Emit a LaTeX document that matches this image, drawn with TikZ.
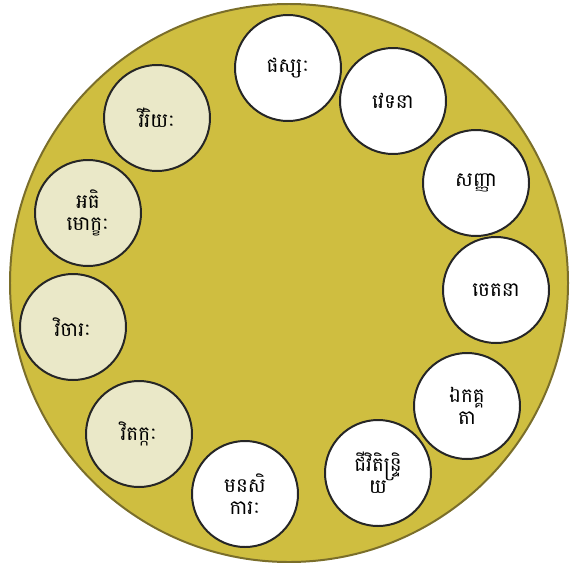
\documentclass[tikz,border=0pt]{standalone}
\usepackage{fontspec}
\newfontfamily\khmerfont[Script=Khmer]{Battambang}
\usepackage{xcolor}
\usepackage{tikz}
\usetikzlibrary{positioning}
\definecolor{wheelfill}{HTML}{CFBE40}
\definecolor{wheeledge}{HTML}{7A6E2A}
\definecolor{paleolive}{HTML}{EAE8C8}
\tikzset{
  wheel/.style={
    circle, draw=wheeledge, fill=wheelfill, line width=1.7pt
  },
  factor/.style={
    circle, draw=black!85, line width=1.7pt, fill=white,
    minimum size=106\pxu, inner sep=0pt, align=center,
    font=\khmerfont\fontsize{17}{19}\selectfont
  },
  particular/.style={
    factor, fill=paleolive
  },
}
\newlength{\pxu}
\setlength{\pxu}{0.03cm}

\begin{document}
\begin{tikzpicture}[x=0.03cm, y=-0.03cm]
  \useasboundingbox (0,0) rectangle (570,562);

  % --- Wheel ---
  \node[wheel, minimum size=558\pxu] (wheel) at (289,283) {};

  % --- Universal factors ---
  \node[factor] (phassa) at (288,68) {ផស្សៈ};
  \node[factor] (vedana) at (393,101) {វេទនា};
  \node[factor] (sanna) at (476,183) {សញ្ញា};
  \node[factor] (cetana) at (496,290) {ចេតនា};
  \node[factor] (ekaggata) at (467,406) {ឯកគ្គ\\តា};
  \node[factor] (jivita) at (378,473) {ជីវិតិន្ទ្រិ\\យ};
  \node[factor] (manasikara) at (245,494) {មនសិ\\ការៈ};

  % --- Particular factors ---
  \node[particular] (vitakka) at (139,434) {វិតក្កៈ};
  \node[particular] (vicara) at (73,327) {វិចារៈ};
  \node[particular] (adhimokkha) at (88,213) {អធិ\\មោក្ខៈ};
  \node[particular] (viriya) at (157,118) {វីរិយៈ};
\end{tikzpicture}
\end{document}
